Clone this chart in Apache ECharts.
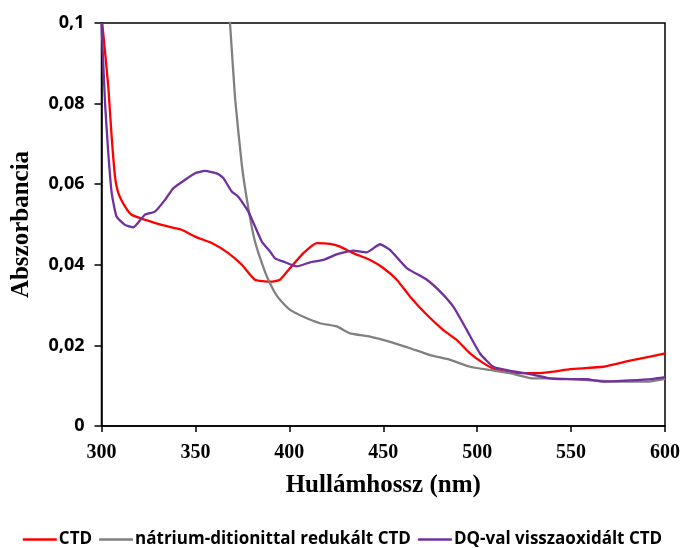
<!DOCTYPE html>
<html><head><meta charset="utf-8">
<script src="https://cdn.jsdelivr.net/npm/echarts@6/dist/echarts.min.js"></script>
<style>html,body{margin:0;padding:0;background:#fff}#c{width:685px;height:548px}</style>
</head><body><div id="c"></div>
<script>
// CTD (red)
const ctdX = [300.4,303.6,305.4,307.2,309,312.5,316,323,332,342.7,349.8,358.7,367.5,374.7,381.7,390,395,400.4,407.5,414.6,421.7,427,434,443,450,457.2,464.3,473.2,482,489,496.2,503.3,510.4,521,531.7,540.6,549.5,567.2,581.4,592,600];
const ctdY = [0.1,0.0843,0.0718,0.0619,0.0578,0.0545,0.0524,0.0512,0.0499,0.0487,0.047,0.0454,0.0429,0.040,0.0363,0.0358,0.0363,0.0392,0.0429,0.0454,0.0452,0.0445,0.0429,0.0412,0.0392,0.0363,0.0321,0.0276,0.0238,0.0214,0.018,0.0156,0.0139,0.0131,0.0131,0.0135,0.0141,0.0147,0.0162,0.0172,0.018];
// nátrium-ditionittal redukált CTD (gray)
const redX = [366.5,368.4,371.1,374.7,378.2,381.7,387,389.7,392.4,395,400.4,407.5,416.3,425.2,432.3,443,453.6,464.3,474.9,485.6,496.2,506.9,517.5,529.9,540.6,558.4,576,590.3,600];
const redY = [0.108,0.1,0.0814,0.0648,0.054,0.0458,0.0383,0.0354,0.033,0.0313,0.0288,0.0271,0.0255,0.0247,0.023,0.0222,0.0209,0.0193,0.0176,0.0164,0.0147,0.0139,0.0131,0.0118,0.0118,0.0114,0.011,0.011,0.0117];
// DQ-val visszaoxidált CTD (purple)
const dqX = [300,301.9,303.6,305.4,308,312.5,317,323,328.5,333.8,338.2,344.5,349.8,355,362.2,364.9,369.3,372.8,378.2,385.3,389.7,392.4,396.8,403.9,411,418.1,425.2,434,441.2,448.3,453.6,462.5,473.2,480.2,487.3,494.5,501.5,508.6,517.5,528.2,540.6,558.4,567.2,581.4,593.8,600];
const dqY = [0.1,0.080,0.0678,0.0579,0.052,0.0499,0.0493,0.0524,0.0532,0.0561,0.059,0.0611,0.0627,0.0633,0.0625,0.0615,0.0582,0.0569,0.0532,0.0458,0.0433,0.0416,0.0408,0.0396,0.0406,0.0412,0.0426,0.0435,0.0431,0.0451,0.0437,0.0392,0.0363,0.0334,0.0296,0.0238,0.018,0.0147,0.0137,0.0129,0.0117,0.0116,0.011,0.0113,0.0117,0.0121];
const seriesNames = ['CTD','nátrium-ditionittal redukált CTD','DQ-val visszaoxidált CTD'];
const xTicks = [300,350,400,450,500,550,600];
const yTicks = [0,0.02,0.04,0.06,0.08,0.1];

const zip = (xs, ys) => xs.map((x, i) => [x, ys[i]]);
const chart = echarts.init(document.getElementById('c'), null, {renderer: 'canvas'});
const serif = '"Liberation Serif","Times New Roman",serif';
const sans = '"Open Sans","Liberation Sans",sans-serif';
chart.setOption({
  animation: false,
  backgroundColor: '#fff',
  grid: {left: 101.5, right: 20, top: 23, bottom: 122, show: true, borderColor: '#000', borderWidth: 1.5,
         containLabel: false, outerBoundsMode: 'none'},
  legend: {
    top: 526, left: 'center', icon: 'rect', itemWidth: 34, itemHeight: 2.5, itemGap: 7,
    textStyle: {fontFamily: sans, fontWeight: 'bold', fontSize: 17, color: '#000', padding: [0,0,0,-3]},
    data: seriesNames
  },
  xAxis: {
    type: 'value', min: 300, max: 600, interval: 50,
    name: 'Hullámhossz (nm)', nameLocation: 'middle', nameGap: 47,
    nameTextStyle: {fontFamily: serif, fontWeight: 'bold', fontSize: 25, color: '#000'},
    axisLine: {show: true, onZero: false, lineStyle: {color: '#000', width: 1.5}},
    axisTick: {show: true, length: 6, lineStyle: {color: '#000', width: 1.5}},
    axisLabel: {fontFamily: serif, fontWeight: 'bold', fontSize: 20, color: '#000', margin: 17,
      formatter: v => xTicks.includes(v) ? String(v) : ''},
    splitLine: {show: false}
  },
  yAxis: {
    type: 'value', min: 0, max: 0.1, interval: 0.02,
    name: 'Abszorbancia', nameLocation: 'middle', nameGap: 67,
    nameTextStyle: {fontFamily: serif, fontWeight: 'bold', fontSize: 25, color: '#000'},
    axisLine: {show: true, lineStyle: {color: '#000', width: 1.5}},
    axisTick: {show: true, length: 7, lineStyle: {color: '#000', width: 1.5}},
    axisLabel: {fontFamily: sans, fontWeight: 'bold', fontSize: 18, color: '#000', margin: 17,
      formatter: v => { const t = yTicks.find(k => Math.abs(k - v) < 1e-9); return t === undefined ? '' : (t === 0 ? '0' : String(+t.toFixed(2)).replace('.', ',')); }},
    splitLine: {show: false}
  },
  series: [
    {name: seriesNames[0], type: 'line', data: zip(ctdX, ctdY), showSymbol: false, smooth: 0.15, clip: true,
     lineStyle: {color: '#ff0000', width: 2.3}, itemStyle: {color: '#ff0000'}},
    {name: seriesNames[1], type: 'line', data: zip(redX, redY), showSymbol: false, smooth: 0.15, clip: true,
     lineStyle: {color: '#808080', width: 2.3}, itemStyle: {color: '#808080'}},
    {name: seriesNames[2], type: 'line', data: zip(dqX, dqY), showSymbol: false, smooth: 0.15, clip: true,
     lineStyle: {color: '#7030a0', width: 2.3}, itemStyle: {color: '#7030a0'}}
  ]
});
</script></body></html>
